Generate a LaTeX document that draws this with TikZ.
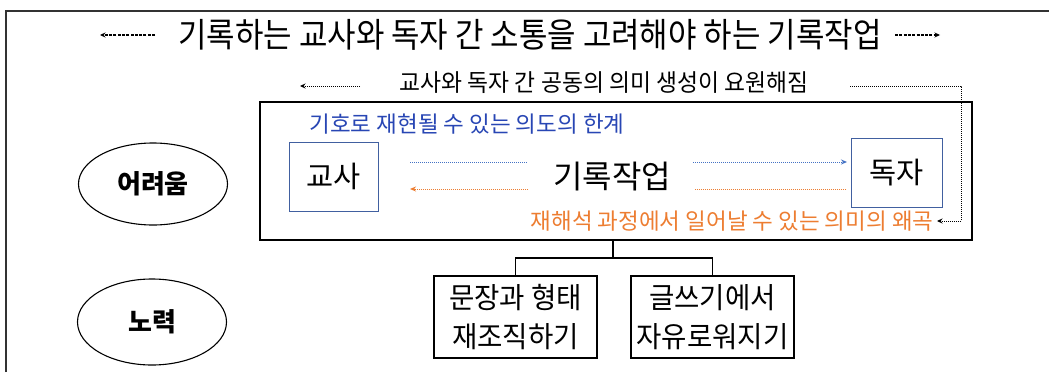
\documentclass[tikz,border=0pt]{standalone}
\usepackage{fontspec}
\usetikzlibrary{arrows.meta,shapes.geometric}
\newfontfamily\kfont{Noto Sans CJK KR}
\newfontfamily\kcond[FakeStretch=0.91]{Noto Sans CJK KR}
\newfontfamily\kcondb[FakeStretch=0.95]{Noto Sans CJK KR}
\definecolor{txtblue}{RGB}{40,70,180}
\definecolor{arrblue}{RGB}{68,114,196}
\definecolor{boxblue}{RGB}{65,96,160}
\definecolor{orng}{RGB}{237,125,49}
\definecolor{frame}{RGB}{50,50,50}
\tikzset{
  person/.style={draw=boxblue, line width=1pt, minimum width=89pt, minimum height=69pt, inner sep=0pt, font=\kfont\fontsize{29.5}{29.5}\selectfont},
  effort/.style={draw=black, line width=1.1pt, minimum width=163pt, minimum height=82pt, inner sep=0pt, align=center, font=\kcondb\fontsize{29}{39}\selectfont},
  oval/.style={ellipse, draw=black, line width=1.1pt, inner sep=0pt, font=\kfont\bfseries\fontsize{26}{26}\selectfont},
  tip/.style={-{Stealth[length=5.5pt,width=5pt]}},
  dashar/.style={tip, line width=1.2pt, dash pattern=on 3pt off 1.3pt},
  dotline/.style={line width=0.9pt, dash pattern=on 1pt off 1pt},
  bluedot/.style={draw=arrblue, line width=1pt, dash pattern=on 1pt off 1pt},
  orngdot/.style={draw=orng, line width=1pt, dash pattern=on 1pt off 1pt},
}
\begin{document}
\begin{tikzpicture}[x=1pt,y=-1pt]
\useasboundingbox (0,0) rectangle (1049,372);
\fill[white] (0,0) rectangle (1049,372);
% frame
\draw[frame, line width=2pt] (6,372) -- (6,11) -- (1049,11);
% title
\node[font=\kcond\fontsize{34}{34}\selectfont] (title) at (530,35) {기록하는 교사와 독자 간 소통을 고려해야 하는 기록작업};
\coordinate (tl1) at (155,35); \coordinate (tl2) at (100,35);
\coordinate (tr1) at (895,35); \coordinate (tr2) at (940,35);
\draw[dashar] (tl1) -- (tl2);
\draw[dashar] (tr1) -- (tr2);
% subtitle
\node[font=\kcondb\fontsize{24}{24}\selectfont] (sub) at (604,83) {교사와 독자 간 공동의 의미 생성이 요원해짐};
\coordinate (sl1) at (360,86); \coordinate (sl2) at (300,86);
\draw[tip, dotline] (sl1) -- (sl2);
% big box
\node[draw=black, line width=1.5pt, minimum width=712pt, minimum height=138pt, inner sep=0pt] (big) at (616,171) {};
\node[anchor=west, text=txtblue, font=\kfont\fontsize{22.5}{23}\selectfont] (limit) at (306,124) {기호로 재현될 수 있는 의도의 한계};
\node[anchor=east, text=orng, font=\kfont\fontsize{22.5}{23}\selectfont] (distort) at (937,221) {재해석 과정에서 일어날 수 있는 의미의 왜곡};
\node[person] (teacher) at (333.5,176.5) {교사};
\node[person, minimum width=91pt] (reader) at (896.5,172.5) {독자};
\node[font=\kfont\fontsize{32}{32}\selectfont] (rec) at (612,177) {기록작업};
% blue arrow teacher -> reader
\coordinate (b1) at (410,162); \coordinate (b2) at (527,162);
\coordinate (b3) at (693,162); \coordinate (b4) at (847,162);
\draw[bluedot] (b1) -- (b2);
\draw[bluedot, -{Stealth[length=6pt,width=5pt]}, arrblue] (b3) -- (b4);
% orange arrow reader -> teacher
\coordinate (o1) at (846,189); \coordinate (o2) at (695,189);
\coordinate (o3) at (528,189); \coordinate (o4) at (410,189);
\draw[orngdot] (o1) -- (o2);
\draw[orngdot, -{Stealth[length=6pt,width=5pt]}, orng] (o3) -- (o4);
% right dotted connector
\coordinate (r1) at (850,86); \coordinate (r2) at (961,86); \coordinate (r3) at (961,221);
\draw[tip, dotline] (r1) -- (r2) -- (r3) -- (distort.east);
% tree
\node[effort] (e1) at (515.5,317) {문장과 형태\\재조직하기};
\node[effort] (e2) at (712.5,317) {글쓰기에서\\자유로워지기};
\coordinate (j) at (613,258);
\draw[line width=1.2pt] (big.south -| j) -- (j);
\draw[line width=1.2pt] (e1.north) |- (j) -| (e2.north);
% ovals
\node[oval, minimum width=149pt, minimum height=82pt] (hard) at (153,184) {어려움};
\node[oval, minimum width=149pt, minimum height=86pt] (try) at (152,322) {노력};
\end{tikzpicture}
\end{document}
